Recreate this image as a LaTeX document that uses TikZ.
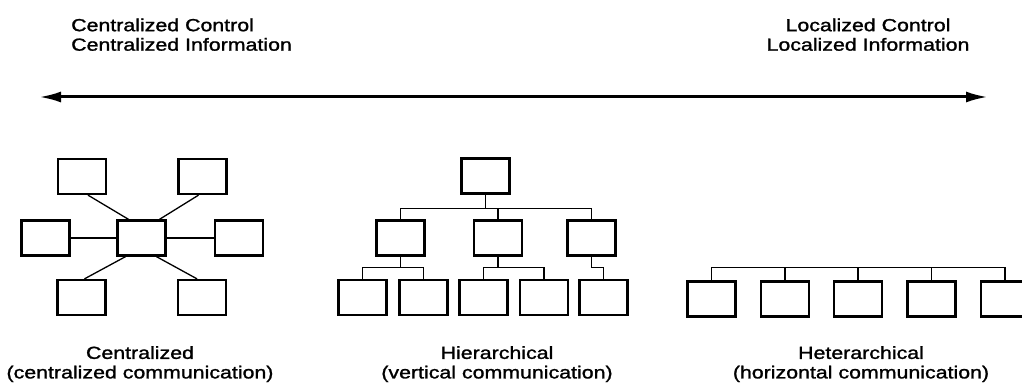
\documentclass[tikz,border=0pt]{standalone}
\usepackage{fontspec}
\setmainfont[FakeStretch=1.22,FakeBold=1.4]{Liberation Sans}
\usetikzlibrary{arrows.meta}
\begin{document}
\begin{tikzpicture}[x=1pt,y=-1pt,
  every node/.style={font=\fontsize{17.5}{19.5}\selectfont, inner sep=0pt},
  unit/.style={draw, line width=2.3pt, minimum width=48pt, minimum height=35pt},
  link/.style={line width=1.3pt},
  axis/.style={line width=3pt, {Latex[length=22pt,width=11pt]}-{Latex[length=22pt,width=11pt]}},
  caption/.style={align=center, anchor=north}]
\clip (0,0) rectangle (1022,387);
\fill[white] (0,0) rectangle (1022,387);

% control / information axis
\node[align=left, anchor=north west] (ltxt) at (71,18.3) {Centralized Control\\Centralized Information};
\node[align=center, anchor=north] (rtxt) at (868,18.3) {Localized Control\\Localized Information};
\coordinate (axL) at (39,97);
\coordinate (axR) at (988,97);
\draw[axis] (axL) -- (axR);

% centralized: star around one hub
\node[unit] (c0) at (141.5,238) {};
\node[unit] (ctl) at (82,176.5) {};
\node[unit] (ctr) at (202.5,176.5) {};
\node[unit] (cml) at (45.5,238) {};
\node[unit] (cmr) at (239,238) {};
\node[unit] (cbl) at (81.5,297.5) {};
\node[unit] (cbr) at (202,297.5) {};
\draw[link] ([xshift=6pt]ctl.south) -- ([xshift=-13pt]c0.north);
\draw[link] ([xshift=-4pt]ctr.south) -- ([xshift=18pt]c0.north);
\draw[link] (cml.east) -- (c0.west);
\draw[link] (c0.east) -- (cmr.west);
\draw[link] ([xshift=-16pt]c0.south) -- ([xshift=3pt]cbl.north);
\draw[link] ([xshift=15pt]c0.south) -- ([xshift=-5pt]cbr.north);
\node[caption] (ccap) at (140,346) {Centralized\\(centralized communication)};

% hierarchical: three-level tree
\node[unit] (h0) at (485.5,176) {};
\node[unit] (ha) at (400.5,238) {};
\node[unit] (hb) at (498,238) {};
\node[unit] (hc) at (591.5,238) {};
\node[unit] (h1) at (362.5,297.5) {};
\node[unit] (h2) at (423.5,297.5) {};
\node[unit] (h3) at (483.5,297.5) {};
\node[unit] (h4) at (544,297.5) {};
\node[unit] (h5) at (603.5,297.5) {};
\draw[link] (h0.south) -- ([yshift=-13pt]h0.south);
\draw[link] (ha.north) |- ([yshift=11pt]hc.north) -- (hc.north);
\draw[link] (hb.north) -- ([yshift=11pt]hb.north);
\draw[link] (ha.south) -- ([yshift=-11pt]ha.south);
\draw[link] (h1.north) |- ([yshift=11pt]h2.north) -- (h2.north);
\draw[link] (hb.south) -- ([yshift=-11pt]hb.south);
\draw[link] (h3.north) |- ([yshift=11pt]h4.north) -- (h4.north);
\draw[link] (hc.south) |- ([yshift=11pt]h5.north) -- (h5.north);
\node[caption] (hcap) at (497,346) {Hierarchical\\(vertical communication)};

% heterarchical: peers on one bus
\node[unit] (e1) at (711.5,299) {};
\node[unit] (e2) at (785,299) {};
\node[unit] (e3) at (858,299) {};
\node[unit] (e4) at (931.5,299) {};
\node[unit] (e5) at (1005,299) {};
\draw[link] (e1.north) |- ([yshift=13pt]e5.north) -- (e5.north);
\draw[link] (e2.north) -- ([yshift=13pt]e2.north);
\draw[link] (e3.north) -- ([yshift=13pt]e3.north);
\draw[link] (e4.north) -- ([yshift=13pt]e4.north);
\node[caption] (ecap) at (861,346) {Heterarchical\\(horizontal communication)};
\end{tikzpicture}
\end{document}
